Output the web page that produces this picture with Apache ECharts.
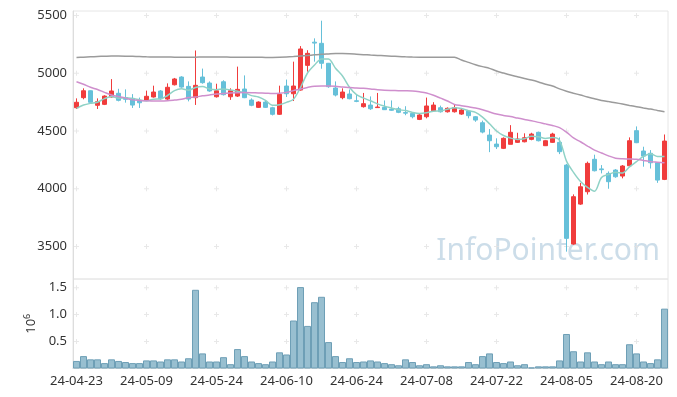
<!DOCTYPE html>
<html><head><meta charset="utf-8">
<script src="https://cdn.jsdelivr.net/npm/echarts@6/dist/echarts.min.js"></script>
<style>html,body{margin:0;padding:0;background:#fff}#c{width:677px;height:397px}</style>
</head><body><div id="c"></div>
<script>
const dates = ["24-04-23","24-04-24","24-04-25","24-04-26","24-04-29","24-04-30",
"24-05-02","24-05-03","24-05-07","24-05-08","24-05-09","24-05-10","24-05-13","24-05-14","24-05-16","24-05-17","24-05-20","24-05-21","24-05-22","24-05-23","24-05-24","24-05-27","24-05-28","24-05-29","24-05-30","24-05-31",
"24-06-03","24-06-04","24-06-05","24-06-07","24-06-10","24-06-11","24-06-12","24-06-13","24-06-14","24-06-17","24-06-18","24-06-19","24-06-20","24-06-21","24-06-24","24-06-25","24-06-26","24-06-27","24-06-28",
"24-07-01","24-07-02","24-07-03","24-07-04","24-07-05","24-07-08","24-07-09","24-07-10","24-07-11","24-07-12","24-07-15","24-07-16","24-07-17","24-07-18","24-07-19","24-07-22","24-07-23","24-07-24","24-07-25","24-07-26","24-07-29","24-07-30","24-07-31",
"24-08-01","24-08-02","24-08-05","24-08-06","24-08-07","24-08-08","24-08-09","24-08-12","24-08-13","24-08-14","24-08-16","24-08-19","24-08-20","24-08-21","24-08-22","24-08-23","24-08-26"];

const opens = [4702,4789,4849,4723,4731,4795,4827,4790,4783,4760,
4769,4795,4847,4777,4901,4968,4887,4789,4968,4916,
4797,4927,4797,4803,4864,4769,4705,4751,4702,4645,
4890,4823,4855,5069,5270,5260,5087,4873,4789,4821,
4762,4711,4725,4703,4705,4690,4693,4660,4653,4601,
4624,4676,4702,4667,4667,4647,4673,4624,4572,4465,
4387,4350,4385,4402,4407,4428,4489,4373,4402,4402,
4205,3521,3867,3974,4255,4172,4133,4162,4110,4199,
4503,4327,4307,4225,4081];
const closes = [4749,4849,4749,4754,4803,4847,4766,4775,4725,4745,
4801,4838,4780,4879,4951,4881,4777,4896,4919,4847,
4849,4815,4849,4861,4789,4723,4751,4705,4645,4818,
4823,4890,5211,5173,5262,5087,4884,4812,4838,4780,
4757,4737,4693,4708,4685,4680,4662,4655,4624,4639,
4717,4725,4667,4697,4702,4682,4633,4595,4491,4416,
4364,4437,4489,4431,4442,4474,4416,4416,4474,4321,
3570,3931,4017,4220,4156,4165,4061,4104,4197,4416,
4399,4283,4225,4075,4413];
const lows = [4691,4775,4745,4691,4725,4790,4757,4746,4700,4700,
4760,4790,4770,4770,4895,4875,4757,4726,4910,4840,
4790,4808,4770,4795,4785,4715,4700,4700,4635,4640,
4795,4760,4850,5014,5101,5040,4875,4800,4775,4775,
4750,4703,4683,4700,4683,4675,4655,4637,4610,4595,
4610,4670,4660,4660,4660,4640,4610,4580,4480,4317,
4344,4344,4385,4397,4402,4420,4410,4370,4397,4300,
3455,3515,3860,3950,4150,4133,4000,4095,4090,4195,
4395,4191,4175,4051,4075];
const highs = [4783,4870,4852,4783,4810,4950,4866,4861,4820,4790,
4850,4893,4855,4913,4960,4975,4930,5198,5041,4930,
4910,4940,4870,5058,4982,4783,4757,4760,4710,4893,
4946,5101,5236,5200,5303,5456,5090,4930,4870,4860,
4818,4830,4800,4830,4765,4765,4710,4715,4660,4650,
4790,4750,4720,4705,4728,4690,4680,4630,4590,4517,
4437,4445,4551,4485,4480,4485,4495,4420,4485,4445,
4215,3951,4050,4235,4295,4205,4150,4170,4205,4445,
4540,4364,4335,4230,4470];
const volumes = [0.14,0.23,0.17,0.17,0.10,0.17,0.14,0.12,0.10,0.10,
0.15,0.15,0.13,0.17,0.17,0.13,0.19,1.46,0.28,0.13,
0.13,0.21,0.08,0.36,0.23,0.13,0.10,0.08,0.13,0.30,
0.26,0.89,1.51,0.79,1.23,1.33,0.49,0.23,0.12,0.19,
0.12,0.13,0.15,0.13,0.10,0.08,0.06,0.17,0.12,0.06,
0.08,0.04,0.06,0.04,0.04,0.04,0.12,0.08,0.23,0.28,
0.12,0.10,0.13,0.06,0.08,0.02,0.04,0.04,0.04,0.15,
0.64,0.32,0.13,0.30,0.13,0.08,0.13,0.08,0.08,0.45,
0.28,0.13,0.10,0.17,1.11];
const ma5 = [4697,4725,4740,4750,4781,4800,4784,4789,4783,4771,
4761,4776,4777,4808,4850,4866,4854,4877,4885,4864,
4858,4865,4856,4844,4833,4807,4795,4766,4723,4728,
4748,4776,4877,5003,5072,5125,5124,5044,4977,4880,
4815,4785,4762,4735,4716,4700,4685,4677,4661,4652,
4659,4672,4674,4689,4702,4695,4676,4662,4621,4563,
4500,4461,4439,4427,4433,4455,4450,4436,4444,4420,
4239,4142,4063,4012,3979,4098,4124,4142,4137,4189,
4235,4280,4304,4280,4279];
const ma20 = [4927,4905,4879,4860,4835,4812,4800,4785,4770,4765,
4762,4760,4760,4762,4768,4775,4790,4795,4805,4812,
4821,4825,4830,4832,4833,4832,4830,4828,4825,4827,
4835,4850,4865,4878,4888,4890,4890,4888,4882,4878,
4872,4870,4865,4858,4853,4851,4850,4849,4847,4840,
4830,4810,4785,4760,4730,4720,4710,4700,4685,4665,
4647,4635,4625,4612,4600,4590,4575,4562,4548,4530,
4490,4440,4407,4370,4335,4310,4285,4265,4260,4258,
4255,4245,4235,4230,4225];
const ma120 = [5138,5140,5143,5146,5148,5150,5150,5149,5147,5145,
5143,5142,5141,5141,5140,5140,5140,5140,5141,5141,
5141,5141,5140,5140,5139,5139,5139,5138,5138,5139,
5141,5145,5150,5155,5160,5165,5168,5171,5172,5170,
5166,5162,5158,5155,5152,5149,5146,5143,5141,5140,
5140,5140,5140,5140,5139,5115,5095,5075,5058,5043,
5020,5002,4985,4970,4955,4942,4925,4905,4890,4865,
4845,4828,4812,4795,4780,4765,4755,4745,4734,4722,
4711,4700,4690,4678,4667];
const priceTicks = [3500,4000,4500,5000,5500];
const volTicks = [0.5,1.0,1.5];
const gridXIdx = [0,10,20,30,40,50,60,70,80];

const candles = opens.map((o,i)=>[o,closes[i],lows[i],highs[i]]);
const crossP = [], crossV = [];
gridXIdx.forEach(x=>{priceTicks.forEach(v=>crossP.push([x,v])); volTicks.forEach(v=>crossV.push([x,v]));});
const plus = 'path://M2,0h1v2h2v1h-2v2h-1v-2h-2v-1h2z';
const FONT = 'Noto Sans';

const chart = echarts.init(document.getElementById('c'), null, {renderer:'canvas'});
chart.setOption({
  animation:false,
  backgroundColor:'#fff',
  textStyle:{fontFamily:FONT},
  grid:[
    {left:73,right:9,top:11,height:268,show:true,borderColor:'#e6e6e6',borderWidth:1},
    {left:73,right:9,top:279,height:89.5,show:true,borderColor:'#e6e6e6',borderWidth:1}
  ],
  graphic:[{type:'text',right:17,top:236,z:-1,silent:true,
    style:{text:'InfoPointer.com',fill:'rgba(170,198,218,0.6)',font:'30px "Noto Sans"'}}],
  xAxis:[
    {type:'category',gridIndex:0,data:dates,boundaryGap:true,axisLine:{show:false},axisTick:{show:false},axisLabel:{show:false},splitLine:{show:false}},
    {type:'category',gridIndex:1,data:dates,boundaryGap:true,axisLine:{show:true,lineStyle:{color:'#dddddd'}},axisTick:{show:false},
     axisLabel:{interval:9,color:'#333',fontSize:13,margin:6,fontFamily:FONT},splitLine:{show:false}}
  ],
  yAxis:[
    {type:'value',gridIndex:0,min:3218,max:5540,splitNumber:5,axisLine:{show:true,lineStyle:{color:'#dddddd'}},axisTick:{show:false},
     axisLabel:{color:'#333',fontSize:13,margin:6,showMinLabel:false,showMaxLabel:false,fontFamily:FONT,formatter:v=>String(Math.round(v))},splitLine:{show:false}},
    {type:'value',gridIndex:1,min:0,max:1.66,interval:0.5,axisLine:{show:true,lineStyle:{color:'#dddddd'}},axisTick:{show:false},
     axisLabel:{color:'#333',fontSize:13,margin:6,showMinLabel:false,showMaxLabel:false,fontFamily:FONT,formatter:v=>v.toFixed(1)},
     splitLine:{show:false},
     name:'{a|10}{s|6}',nameLocation:'middle',nameRotate:90,nameGap:33,
     nameTextStyle:{rich:{a:{fontSize:13,color:'#333',fontFamily:FONT},s:{fontSize:9,color:'#333',fontFamily:FONT,verticalAlign:'top',padding:[0,0,8,0]}}}}
  ],
  series:[
    {type:'scatter',xAxisIndex:0,yAxisIndex:0,data:crossP,symbol:plus,symbolSize:5,itemStyle:{color:'#e2e2e2'},silent:true,z:0},
    {type:'scatter',xAxisIndex:1,yAxisIndex:1,data:crossV,symbol:plus,symbolSize:5,itemStyle:{color:'#e2e2e2'},silent:true,z:0},
    {type:'candlestick',xAxisIndex:0,yAxisIndex:0,data:candles,barWidth:5,
     itemStyle:{color:'#f03c3c',color0:'#66c0d9',borderColor:'#f03c3c',borderColor0:'#66c0d9',borderWidth:1}},
    {type:'line',xAxisIndex:0,yAxisIndex:0,data:ma5,showSymbol:false,smooth:0.3,lineStyle:{width:1.5,color:'#8fd2c6'},z:3},
    {type:'line',xAxisIndex:0,yAxisIndex:0,data:ma20,showSymbol:false,smooth:0.3,lineStyle:{width:1.5,color:'#cf8fcd'},z:3},
    {type:'line',xAxisIndex:0,yAxisIndex:0,data:ma120,showSymbol:false,smooth:0.3,lineStyle:{width:1.5,color:'#9b9b9b'},z:3},
    {type:'bar',xAxisIndex:1,yAxisIndex:1,data:volumes,barCategoryGap:0,
     itemStyle:{color:'#98bfd0',borderColor:'#6e9fb6',borderWidth:1}}
  ]
});
</script></body></html>
